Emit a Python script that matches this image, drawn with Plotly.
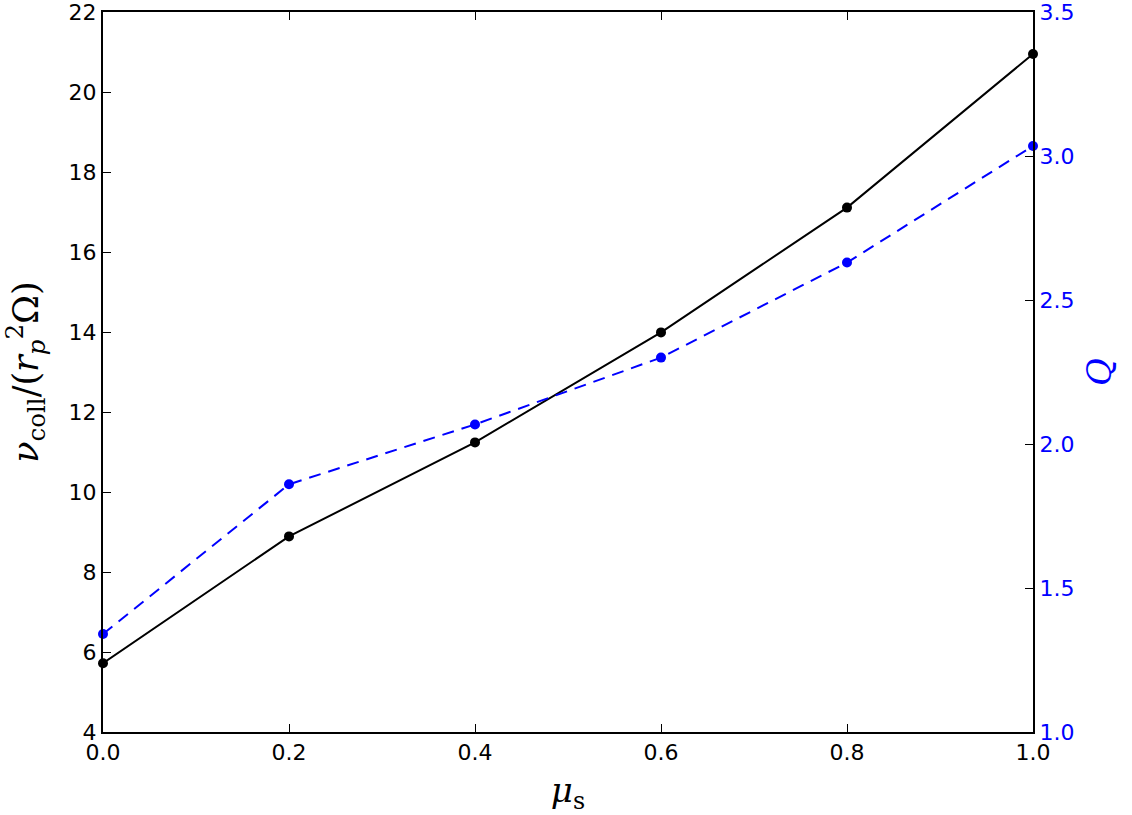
import plotly.graph_objects as go

mu_s = [0.0, 0.2, 0.4, 0.6, 0.8, 1.0]
nu_coll = [5.72, 8.89, 11.24, 13.99, 17.11, 20.95]
Q_vals = [1.34, 1.86, 2.068, 2.30, 2.63, 3.035]

x_ticks = [0.0, 0.2, 0.4, 0.6, 0.8, 1.0]
y1_ticks = [4, 6, 8, 10, 12, 14, 16, 18, 20, 22]
y2_ticks = [1.0, 1.5, 2.0, 2.5, 3.0, 3.5]

font = "DejaVu Sans, sans-serif"
serif = "DejaVu Serif, serif"

fig = go.Figure()
fig.add_trace(go.Scatter(
    x=mu_s, y=nu_coll, mode="lines+markers",
    line=dict(color="black", width=2),
    marker=dict(color="black", size=10),
    cliponaxis=False, showlegend=False))
fig.add_trace(go.Scatter(
    x=mu_s, y=Q_vals, mode="lines+markers", yaxis="y2",
    line=dict(color="#0000ff", width=2, dash="12px,8px"),
    marker=dict(color="#0000ff", size=10),
    cliponaxis=False, showlegend=False))

fig.update_layout(
    width=1132, height=815,
    margin=dict(l=103, r=99, t=12, b=83),
    paper_bgcolor="white", plot_bgcolor="white",
    font=dict(family=font, size=22, color="black"),
    xaxis=dict(
        range=[0, 1], tickvals=x_ticks, ticktext=[f"{v:.1f}" for v in x_ticks],
        ticks="inside", ticklen=8, tickcolor="black", tickwidth=1,
        showline=True, linecolor="black", linewidth=2, mirror="ticks",
        showgrid=False, zeroline=False, automargin=False, ticklabeloverflow="allow",
        title=dict(text="<i>μ</i><sub>s</sub>", font=dict(family=serif, size=34), standoff=18),
    ),
    yaxis=dict(
        range=[4, 22], tickvals=y1_ticks, ticktext=[str(v) for v in y1_ticks],
        ticks="inside", ticklen=8, tickcolor="black", tickwidth=1,
        showline=True, linecolor="black", linewidth=2,
        showgrid=False, zeroline=False, automargin=False, ticklabeloverflow="allow",
        title=dict(text="<i>ν</i><sub>coll</sub>/(<i>r</i><sub><i>p</i></sub><sup>2</sup>Ω)",
                   font=dict(family=serif, size=35), standoff=26),
    ),
    yaxis2=dict(
        range=[1.0, 3.5], tickvals=y2_ticks, ticktext=[f"{v:.1f}" for v in y2_ticks],
        overlaying="y", side="right",
        ticks="inside", ticklen=8, tickcolor="black", tickwidth=1,
        tickfont=dict(color="#0000ff"),
        showline=True, linecolor="black", linewidth=2,
        showgrid=False, zeroline=False, automargin=False, ticklabeloverflow="allow",
        title=dict(text="<i>Q</i>", font=dict(family=serif, size=34, color="#0000ff"), standoff=14),
    ),
)

fig.write_html("out.html")
